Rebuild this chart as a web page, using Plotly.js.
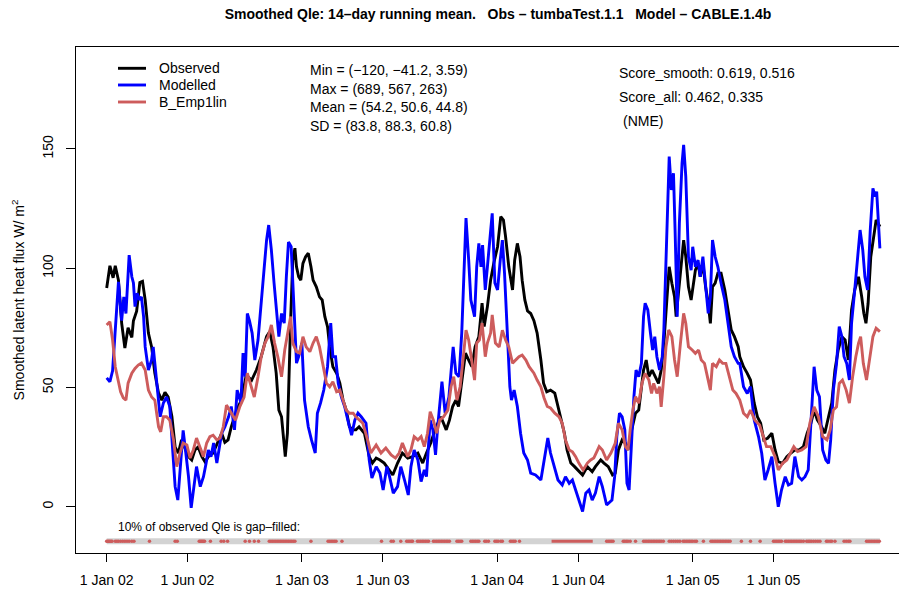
<!DOCTYPE html>
<html>
<head>
<meta charset="utf-8">
<script src="https://cdn.plot.ly/plotly-3.0.1.min.js"></script>
<style>
  html, body { margin: 0; padding: 0; background: #ffffff; }
  #chart { width: 899px; height: 589px; }
</style>
</head>
<body>
<div id="chart"></div>
<script>
// 14-day running mean of latent heat flux (W/m2), days counted from 1 Jan 2002

const obsDays = [0,6,12,16,22,28,34,40,47,50,56,62,67,72,78,84,90,97,103,109,115,122,128,134,140,146,153,159,165,171,178,184,190,199,209,215,221,
  227,233,243,252,261,271,280,289,299,305,311,317,322,327,332,334,338,340,344,348,352,355,359,363,367,372,377,382,386,392,398,403,408,413,417,423,430,436,442,448,454,461,
  466,472,482,491,497,504,511,519,529,535,544,553,563,572,582,591,598,606,616,625,635,641,647,653,658,664,671,677,683,689,696,702,
  706,712,718,724,731,737,742,746,752,759,763,768,773,777,782,787,793,799,805,812,817,823,830,838,844,850,856,861,868,875,883,890,899,908,914,924,930,938,946,
  951,957,964,970,975,979,984,989,995,1000,1004,1009,1014,1020,1026,1032,1037,1042,1048,1052,1057,1062,1065,1070,1075,1079,1083,1088,1093,1096,1101,1106,1110,1115,1120,1125,1129,1133,1138,1143,1149,1156,1162,1168,1174,1181,
  1184,1191,1198,1204,1211,1217,1223,1229,1236,1244,1250,1256,1264,1272,1279,1287,1295,1303,1310,1317,1323,1329,1337,1343,1350,1356,1362,1368,1375,1381,1387,1393,1399,1406,1412,1416,1420,1424,1429,1434,1439,1443,1446];
const obsQle = [91.7,101,96,101,95,77,66.5,75,71,78,82,94,94.5,86.6,72.8,67,56,47.6,44.7,48,46,37.7,25,22.5,28,25,21,19.6,23.8,25,21,18.8,21,22.5,28,30.8,27,
  28,33.5,40.5,44.7,55.2,53,57.3,63,71.3,73.4,67,56,40.5,37.7,23.8,21,30.8,50.3,78,103.4,108.4,100.6,96.4,95,102,104.8,106.3,100.6,95,92.2,88,86.7,79.7,75.5,67,58.7,56,51.8,44.7,40.5,33.5,32.2,
  32.2,33.5,30.8,21,18.3,20.4,19.6,18.3,15.4,13.3,18.3,22.5,20.4,21,22.5,18.3,22.5,26.7,33.5,37.7,32.2,36.3,42,44.7,42,53.1,64.4,61.5,58.7,67,71.3,85.4,
  75.5,83.9,95,102.2,109,121.6,120.2,113.2,100.6,90.9,103.4,110.4,104.8,95,86.7,82.1,81,78,72.8,61.5,51.8,48.2,48.9,47.6,42,37.7,30.8,23.8,18.3,16.8,14.7,13.3,16.8,14.7,16.8,19.6,18.3,16.8,13.3,
  14,23.8,28,26.6,23.8,29.4,35,39.2,40.5,48.9,57.3,61.5,54.5,57.3,54.5,51.7,57.3,68.5,88,100.6,93.7,88,79.7,92.2,104.8,111.8,104.8,92.2,86.7,90.9,99.2,102,96.4,102,92.2,85.3,76.9,92.2,93.7,97.9,97.9,90.9,82.5,74.1,71.3,67.1,
  62.9,58.7,55.9,53.1,43.4,37.7,35,28,28.7,30.8,23.8,18.9,18.2,21,22.4,23.8,23.8,25.2,30.8,35,40.5,36.4,33.5,30.8,37.7,43.4,57.3,65.7,71.3,69.9,61.5,82.5,90.9,96.4,88,81.1,76.9,85.3,104.8,111.8,120.2,118.8,117.4];

const modDays = [0,6,11,16,22,28,32,36,42,47,50,53,57,61,65,69,72,78,84,87,94,100,106,112,118,123,128,133,139,143,148,153,158,162,168,175,181,186,190,195,200,206,211,215,221,228,
  233,239,244,251,255,259,263,267,272,277,283,289,294,299,303,308,313,317,322,327,332,336,340,345,350,355,359,365,370,377,383,390,394,400,406,413,419,423,428,433,439,445,451,458,464,470,476,
  485,491,496,504,511,517,524,529,536,544,550,557,564,569,575,582,588,594,598,605,610,615,619,627,633,640,644,648,653,659,664,669,672,677,681,688,692,696,700,703,708,712,
  718,721,726,731,736,740,744,749,754,757,762,768,774,780,787,793,802,812,818,825,830,838,844,852,858,865,871,877,883,890,896,902,908,914,921,927,935,941,
  945,950,954,959,964,969,973,977,981,986,990,995,1000,1004,1007,1012,1017,1021,1025,1029,1034,1039,1042,1046,1050,1052,1056,1060,1063,1067,1071,1076,1079,1083,1088,1093,1096,1101,1106,1110,1115,1120,1125,1129,1133,1138,1143,1149,1156,1162,1168,1174,1181,
  1184,1191,1198,1204,1211,1219,1225,1231,1237,1244,1250,1256,1262,1269,1275,1281,1287,1294,1300,1306,1312,1317,1323,1328,1333,1339,1345,1350,1354,1359,1365,1370,1375,1379,1384,1389,1393,1399,1404,1409,1414,1418,1423,1428,1433,1437,1440,1443,1446];
const modQle = [54,52.4,57,75.5,94.3,78,88,81,105.5,96.4,93.8,83.9,89.5,86.7,88,79.7,67,57.3,61.5,67,50.3,37.7,43.5,46,42,25,8.4,2.8,19.6,32,22.5,12.6,-0.5,5.7,16.8,8.4,12.6,18.3,23.8,21,26.7,18.3,25,30.8,33.5,37.7,
  42,32.2,48.9,43.5,64.4,54.5,81,78,72.8,61.5,69.9,86.7,99.2,111.8,118.1,107.6,93.8,82.1,71.3,81,77,96.4,111,109,82.1,60.2,62.9,68.6,44.7,33.5,28,22.5,39.2,43.5,48.9,58.7,77,62.9,62.9,51.8,46,42,36.3,30,36.3,39.2,37.7,
  35,19.6,12,16.8,14.1,7,16.8,12.6,5.7,8.4,16.8,11.2,4.9,16.8,23.8,19.6,10.5,15.4,12.6,36.3,32.2,21.7,33.5,52.4,39.2,46,56,67,56,54.5,72.8,100.6,121,103.4,86.7,79.7,100.6,110.4,100.6,109.7,90.9,100.6,
  114.8,123,93.8,90.9,103.4,111.8,98,72.8,50.3,44.7,48.9,42,30.8,22.5,19.6,14.1,13.3,11.2,19.6,28.8,22.5,15.4,11.2,9.1,12.6,9.8,11.2,7,2.8,-2,5.7,7,2.8,5.7,12.6,8.4,0.7,2.1,
  2.8,12.6,29.4,39.2,37.7,32.2,9.8,7,25.2,46.1,57.3,54.5,60.1,79.7,85.3,82.5,72.7,65.7,71.3,62.9,57.3,62.9,74.1,102,135.6,146.8,132.8,139.8,116,79.7,118.8,144,151.7,138.4,104.8,99.2,109,100.6,103.4,96.4,104.8,92.2,81.1,88,111.8,104.8,100.6,93.7,86.7,76.9,67.1,62.9,60.1,
  60.1,50.3,47.5,50.3,36.4,29.4,22.4,11.2,15.4,21,9.8,0,7,12.6,9.1,9.8,21,12.6,11.2,12.6,15.4,35,58.7,48.9,46.1,23.8,19.6,18.2,28,48.9,60.1,75.5,71.3,62.9,60.1,53.1,76.9,90.9,102,116,107.6,96.4,90.9,116,133.5,130,132.1,120.2,108.3];

const empDays = [0,6,11,16,22,26,31,36,40,47,53,59,65,72,78,84,90,97,101,106,112,118,125,131,137,143,150,156,162,168,175,181,187,193,199,206,212,218,224,
  233,241,249,257,263,271,276,283,289,296,302,308,314,320,327,333,339,344,348,355,361,367,373,380,386,392,398,405,411,417,423,430,436,442,448,454,461,
  466,479,488,494,504,513,522,532,540,547,553,563,569,575,582,588,594,600,605,611,617,623,630,638,644,649,655,661,667,672,677,681,688,692,697,702,708,712,
  718,721,727,734,740,746,752,759,765,771,777,784,790,799,805,812,818,824,830,838,846,852,858,865,871,877,883,891,899,905,911,921,927,935,943,
  951,957,964,970,975,979,984,989,995,1001,1007,1014,1019,1023,1029,1034,1037,1042,1046,1051,1057,1062,1067,1073,1079,1083,1088,1095,1101,1107,1112,1118,1125,1129,1133,1140,1146,1152,1158,1164,1171,1177,
  1184,1191,1198,1204,1212,1221,1228,1234,1242,1250,1256,1264,1272,1279,1285,1292,1300,1308,1315,1323,1331,1339,1347,1353,1359,1365,1370,1376,1383,1389,1395,1401,1406,1410,1415,1421,1428,1433,1439,1446];
const empQle = [76.2,77.6,70,58.7,52.4,48.2,45.6,44.7,51.8,56,58,59.4,60.2,57.3,48.9,46,44.7,33.5,31.4,37.7,37.7,36.3,28,16.8,22.5,26.7,25.9,20.4,23.8,28.8,24.6,21,26.7,29.4,30,28,28.8,33.5,42.6,
  39.2,36.3,42,46,56,50.3,46,54.5,62.9,68.6,71.3,76.2,68.6,62.9,54.5,65.7,72.8,79.7,68.6,65,64.4,71.3,67,65,68.6,71.3,67,58.7,51.8,50.3,52.4,48.2,48.9,44.7,40.5,39.2,39.2,
  37.7,35,28,22.5,25.9,22.5,24.6,21.7,20.4,22.5,26.7,21,23.8,29.4,28,29.4,25.2,30.8,39.8,36.3,30.8,36.3,37.7,40.5,50.3,54.5,44.7,50.3,62.9,74,69.9,62.9,53.1,68.6,69.9,77,62.9,68.6,
  72.8,80.4,68.6,67,74,69.9,67,60.2,61.5,62.9,63.6,61.5,58.7,56,53.1,50.3,45.6,42,41.4,39.2,37.7,35,28,23.8,23,21,18.3,15.4,18.3,19.6,20.4,25.2,23.8,19.6,22.5,
  26.6,35,32.2,25.2,23.8,32.2,40.5,46.1,43.4,51.7,55.9,53.1,47.5,51.7,47.5,50.3,41.9,54.5,67.1,74.1,71.3,61.5,54.5,68.5,81.1,76.9,67.1,65.7,64.3,65.7,61.5,60.1,53.1,48.9,60.1,58.7,61.5,60.1,60.1,54.5,48.9,47.5,
  44.7,39.2,37.7,40.5,36.4,34.3,29.4,25.2,25.2,21,15.4,18.2,19.6,22.4,25.2,23.1,23.8,25.2,35,41.9,37.7,29.4,28,32.2,40.5,41.9,51.7,53.1,48.9,43.4,54.5,62.9,68.5,71.3,60.1,53.1,62.9,71.3,74.8,73.4];

// Days whose observed Qle was gap-filled, and one long gap-filled run in 2004
const gapDays = [0,2,4,6,8,10,16,19,22,26,30,34,38,42,47,51,80,128,132,173,175,177,179,181,183,194,214,219,226,259,267,276,284,
  304,307,310,313,316,319,322,325,328,331,334,337,340,343,346,349,352,382,414,417,420,423,426,429,440,514,532,536,550,
  561,564,567,570,572,581,584,587,590,593,596,599,602,611,614,617,620,623,626,629,632,635,638,641,655,658,661,664,
  681,684,687,690,693,696,707,710,714,726,729,732,737,740,755,758,761,764,772,935,938,941,944,947,966,969,972,975,979,989,
  1004,1007,1010,1013,1016,1019,1022,1025,1028,1031,1034,1037,1041,1052,1056,1060,1064,1068,1072,1078,1081,1084,1087,1090,1093,1096,1100,1103,
  1116,1130,1133,1136,1139,1142,1145,1148,1151,1154,1157,1160,1163,1166,1187,1204,1222,1247,1250,1253,1256,1259,1262,
  1269,1272,1275,1278,1281,1284,1287,1290,1293,1296,1299,1303,1309,1312,1315,1318,1322,1326,1330,1334,1346,1349,1353,1356,1362,
  1379,1383,1387,1390,1421,1424,1427,1430,1433,1436,1439,1442,1445];
const gapRun = [832, 909];
const gapRowLevel = -14.5;
const recordSpan = [0, 1446];

const tickDates = ['2002-01-01','2002-06-01','2003-01-01','2003-06-01','2004-01-01','2004-06-01','2005-01-01','2005-06-01'];
const tickLabels = ['1 Jan 02','1 Jun 02','1 Jan 03','1 Jun 03','1 Jan 04','1 Jun 04','1 Jan 05','1 Jun 05'];

const seriesNames = ['Observed', 'Modelled', 'B_Emp1lin'];
const seriesColors = ['#000000', '#0000FF', '#CD5C5C'];

const statLines = ['Min = (\u2212120, \u221241.2, 3.59)', 'Max = (689, 567, 263)', 'Mean = (54.2, 50.6, 44.8)', 'SD = (83.8, 88.3, 60.8)'];
const scoreLines = ['Score_smooth: 0.619, 0.516', 'Score_all: 0.462, 0.335', '(NME)'];

// ---- helpers ----
const T0 = Date.UTC(2002, 0, 1);
const DAY = 86400000;
const toDate = d => new Date(T0 + d * DAY).toISOString().slice(0, 19).replace('T', ' ');

const W = 899, H = 589;
const M = { l: 76, r: 0, t: 47, b: 36 };
const PW = W - M.l - M.r, PH = H - M.t - M.b;
const px = x => (x - M.l) / PW;          // pixel -> paper x
const py = y => (H - M.b - y) / PH;      // pixel -> paper y

const FONT = 'Liberation Sans, Arial, Helvetica, sans-serif';

const lineTrace = (days, vals, i) => ({
  type: 'scatter', mode: 'lines', name: seriesNames[i],
  x: days.map(toDate), y: vals,
  line: { color: seriesColors[i], width: 2.9 },
  hoverinfo: 'skip', showlegend: false
});

const traces = [
  {
    type: 'scatter', mode: 'lines',
    x: recordSpan.map(toDate), y: recordSpan.map(() => gapRowLevel),
    line: { color: '#D3D3D3', width: 6 }, hoverinfo: 'skip', showlegend: false
  },
  {
    type: 'scatter', mode: 'lines',
    x: gapRun.map(toDate), y: gapRun.map(() => gapRowLevel),
    line: { color: seriesColors[2], width: 3 }, hoverinfo: 'skip', showlegend: false
  },
  {
    type: 'scatter', mode: 'markers',
    x: gapDays.map(toDate), y: gapDays.map(() => gapRowLevel),
    marker: { color: seriesColors[2], size: 3.5, symbol: 'circle' }, hoverinfo: 'skip', showlegend: false
  },
  lineTrace(obsDays, obsQle, 0),
  lineTrace(modDays, modQle, 1),
  lineTrace(empDays, empQle, 2)
];

const annotations = [];
const shapes = [];

// legend block
const legendRows = [68.3, 85, 102];
seriesNames.forEach((n, i) => {
  shapes.push({
    type: 'line', xref: 'paper', yref: 'paper',
    x0: px(118), x1: px(146), y0: py(legendRows[i]), y1: py(legendRows[i]),
    line: { color: seriesColors[i], width: 2.9 }
  });
  annotations.push({
    xref: 'paper', yref: 'paper', x: px(157), y: py(legendRows[i]),
    xanchor: 'left', yanchor: 'middle', showarrow: false,
    text: n, font: { family: FONT, size: 14, color: '#000' }
  });
});

// summary statistics
const statRows = [70, 89, 107.5, 126];
statLines.forEach((t, i) => annotations.push({
  xref: 'paper', yref: 'paper', x: px(308), y: py(statRows[i]),
  xanchor: 'left', yanchor: 'middle', showarrow: false,
  text: t, font: { family: FONT, size: 14, color: '#000' }
}));

const scoreRows = [73, 97, 121];
const scoreX = [617, 617, 621];
scoreLines.forEach((t, i) => annotations.push({
  xref: 'paper', yref: 'paper', x: px(scoreX[i]), y: py(scoreRows[i]),
  xanchor: 'left', yanchor: 'middle', showarrow: false,
  text: t, font: { family: FONT, size: 14, color: '#000' }
}));

annotations.push({
  xref: 'paper', yref: 'paper', x: px(116), y: py(527),
  xanchor: 'left', yanchor: 'middle', showarrow: false,
  text: '10% of observed Qle is gap\u2013filled:', font: { family: FONT, size: 12, color: '#000' }
});

const layout = {
  width: W, height: H,
  margin: M,
  paper_bgcolor: '#ffffff', plot_bgcolor: '#ffffff',
  font: { family: FONT, size: 14, color: '#000' },
  title: {
    text: '<b>Smoothed Qle: 14\u2013day running mean.\u00A0\u00A0\u00A0Obs \u2013 tumbaTest.1.1\u00A0\u00A0\u00A0Model \u2013 CABLE.1.4b</b>',
    font: { family: FONT, size: 14, color: '#000' },
    xref: 'container', yref: 'container',
    x: 498 / W, y: 1 - 14 / H, xanchor: 'center', yanchor: 'middle'
  },
  xaxis: {
    type: 'date',
    range: [toDate(-57.4), toDate((W - 106.7) / 0.5347)],
    tickvals: tickDates, ticktext: tickLabels,
    ticks: 'outside', ticklen: 8, tickwidth: 1, tickcolor: '#000',
    ticklabelstandoff: 6,
    showline: true, linecolor: '#000', linewidth: 1, mirror: true,
    showgrid: false, zeroline: false,
    tickfont: { family: FONT, size: 14, color: '#000' }
  },
  yaxis: {
    range: [-19.41, 192.75],
    tickvals: [0, 50, 100, 150],
    ticks: 'outside', ticklen: 9, tickwidth: 1, tickcolor: '#000',
    tickangle: -90,
    ticklabelstandoff: 7,
    showline: true, linecolor: '#000', linewidth: 1,
    showgrid: false, zeroline: false,
    tickfont: { family: FONT, size: 14, color: '#000' },
    title: {
      text: 'Smoothed latent heat flux W/ m<sup>2</sup>',
      font: { family: FONT, size: 14, color: '#000' },
      standoff: 12
    },
    automargin: false
  },
  shapes: shapes,
  annotations: annotations,
  showlegend: false
};

Plotly.newPlot('chart', traces, layout, { staticPlot: true, displayModeBar: false });
</script>
</body>
</html>
